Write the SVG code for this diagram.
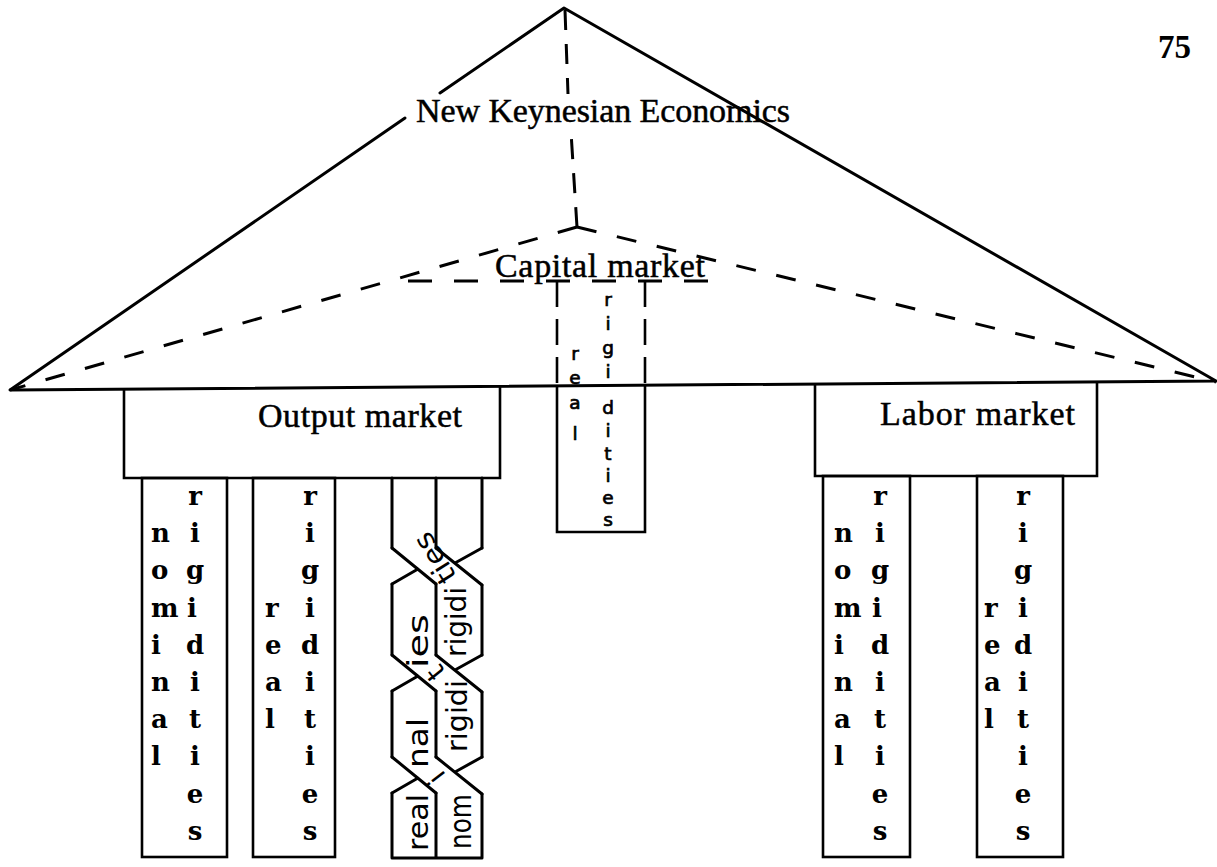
<svg xmlns="http://www.w3.org/2000/svg" width="1217" height="867" viewBox="0 0 1217 867">
<style>
.ln{stroke:#000;stroke-width:3;fill:none;stroke-linecap:round;stroke-linejoin:round}
.bx{stroke:#000;stroke-width:2.6;fill:none;stroke-linejoin:miter}
.ds1{stroke:#000;stroke-width:3;fill:none;stroke-dasharray:20 14}
.ds2{stroke:#000;stroke-width:3;fill:none;stroke-dasharray:20 21}
.ds3{stroke:#000;stroke-width:3;fill:none;stroke-dasharray:24 22}
.ds4{stroke:#000;stroke-width:2.6;fill:none;stroke-dasharray:26 12}
.ttl{font-family:"Liberation Serif","Times New Roman",serif;font-size:34px;fill:#000;stroke:#000;stroke-width:0.5}
.col{font-family:"DejaVu Serif",serif;font-weight:bold;font-size:26px;fill:#000}
.mid{text-anchor:middle}
.hw{font-family:"DejaVu Sans",sans-serif;font-size:28px;fill:#000}
.hwc{font-family:"DejaVu Sans",sans-serif;font-size:18.5px;fill:#000;text-anchor:middle;stroke:#000;stroke-width:0.7}
</style>
<rect width="1217" height="867" fill="#fff"/>

<g id="roof">
<path class="ln" d="M440,93 L564,8 L1216,381 L10,390 L405,118"/>
<path class="ds1" d="M565,10 L568,94"/>
<path class="ds1" d="M577,227 L571,132"/>
<path class="ds2" d="M577,227 L10,390"/>
<path class="ds2" d="M577,227 L1216,382"/>
<text class="ttl" x="416" y="122" font-size="33" textLength="374" lengthAdjust="spacing">New Keynesian Economics</text>
</g>

<g id="capital-market">
<path class="ds3" d="M408,281 L713,281"/>
<path class="ds4" d="M557,281 L557,386"/>
<path class="ds4" d="M645,281 L645,386"/>
<path class="bx" d="M557,386 L557,532 L645,532 L645,385"/>
<text class="ttl" x="495" y="277" textLength="210" lengthAdjust="spacing">Capital market</text>
<g class="hwc">
<text x="575" y="360">r</text><text x="575" y="384">e</text><text x="575" y="409">a</text><text x="575" y="440">l</text>
<text x="608" y="306">r</text><text x="608" y="330">i</text><text x="608" y="354">g</text><text x="608" y="378">i</text><text x="608" y="414">d</text><text x="608" y="437">i</text><text x="608" y="460">t</text><text x="608" y="482">i</text><text x="608" y="504">e</text><text x="608" y="526">s</text>
</g>
</g>

<g id="output-market">
<path class="bx" d="M124,389 L124,478 L500,478 L500,386"/>
<text class="ttl" x="258" y="427" textLength="204" lengthAdjust="spacing">Output market</text>
</g>

<g id="labor-market">
<path class="bx" d="M815,384 L815,476 L1097,476 L1097,382"/>
<text class="ttl" x="880" y="425" textLength="195" lengthAdjust="spacing">Labor market</text>
</g>

<g id="output-nominal-column">
<rect class="bx" x="142" y="478" width="85" height="379"/>
<g class="col">
<text x="151" y="542">n</text><text x="151" y="579">o</text><text x="151" y="617">m</text><text x="151" y="654">i</text><text x="151" y="691">n</text><text x="151" y="728">a</text><text x="151" y="765">l</text>
</g>
<g class="col mid">
<text x="195" y="505">r</text><text x="195" y="542">i</text><text x="195" y="579">g</text><text x="192" y="617">i</text><text x="195" y="654">d</text><text x="195" y="691">i</text><text x="195" y="728">t</text><text x="195" y="765">i</text><text x="195" y="803">e</text><text x="195" y="840">s</text>
</g>
</g>

<g id="output-real-column">
<rect class="bx" x="253" y="478" width="82" height="379"/>
<g class="col">
<text x="265" y="617">r</text><text x="265" y="654">e</text><text x="265" y="691">a</text><text x="265" y="728">l</text>
</g>
<g class="col mid">
<text x="310" y="505">r</text><text x="310" y="542">i</text><text x="310" y="579">g</text><text x="310" y="617">i</text><text x="310" y="654">d</text><text x="310" y="691">i</text><text x="310" y="728">t</text><text x="310" y="765">i</text><text x="310" y="803">e</text><text x="310" y="840">s</text>
</g>
</g>

<g id="output-braided-column">
<g class="ln" stroke-width="2.6">
<path d="M392,478 L392,548 M436,478 L436,548 M482,478 L482,548"/>
<path d="M392,548 L436,584 M436,548 L482,585 M482,548 L455,563 M392,584 L418,569"/>
<path d="M392,584 L392,655 M436,584 L436,655 M482,585 L482,655"/>
<path d="M392,655 L436,691 M436,655 L482,692 M482,655 L455,670 M392,691 L418,676"/>
<path d="M392,691 L392,757 M436,691 L436,757 M482,692 L482,757"/>
<path d="M392,757 L436,793 M436,757 L482,794 M482,757 L455,772 M392,793 L418,778"/>
<path d="M392,793 L392,858 L482,858 L482,794 M436,793 L436,858"/>
</g>
<g class="hw">
<text transform="translate(428,851) rotate(-90)" textLength="57" lengthAdjust="spacingAndGlyphs">real</text>
<text transform="translate(471,849) rotate(-90)" font-size="30" textLength="55" lengthAdjust="spacingAndGlyphs">nom</text>
<text transform="translate(444,772) rotate(-128)" text-anchor="middle">i</text>
<text transform="translate(428,768) rotate(-90)" textLength="50" lengthAdjust="spacingAndGlyphs">nal</text>
<text transform="translate(467,752) rotate(-90)" textLength="72" lengthAdjust="spacingAndGlyphs">rigidi</text>
<text transform="translate(443,667) rotate(-128)" text-anchor="middle">t</text>
<text transform="translate(428,668) rotate(-90)" textLength="54" lengthAdjust="spacingAndGlyphs">ies</text>
<text transform="translate(466,657) rotate(-90)" textLength="70" lengthAdjust="spacingAndGlyphs">rigidi</text>
<text transform="translate(443,553) rotate(-122)" text-anchor="middle" textLength="55" lengthAdjust="spacingAndGlyphs">ties</text>
</g>
</g>

<g id="labor-nominal-column">
<rect class="bx" x="823" y="476" width="87" height="381"/>
<g class="col">
<text x="834" y="542">n</text><text x="834" y="579">o</text><text x="834" y="617">m</text><text x="834" y="654">i</text><text x="834" y="691">n</text><text x="834" y="728">a</text><text x="834" y="765">l</text>
</g>
<g class="col mid">
<text x="880" y="505">r</text><text x="880" y="542">i</text><text x="880" y="579">g</text><text x="877" y="617">i</text><text x="880" y="654">d</text><text x="880" y="691">i</text><text x="880" y="728">t</text><text x="880" y="765">i</text><text x="880" y="803">e</text><text x="880" y="840">s</text>
</g>
</g>

<g id="labor-real-column">
<rect class="bx" x="977" y="476" width="86" height="381"/>
<g class="col">
<text x="984" y="617">r</text><text x="984" y="654">e</text><text x="984" y="691">a</text><text x="984" y="728">l</text>
</g>
<g class="col mid">
<text x="1023" y="505">r</text><text x="1023" y="542">i</text><text x="1023" y="579">g</text><text x="1023" y="617">i</text><text x="1023" y="654">d</text><text x="1023" y="691">i</text><text x="1023" y="728">t</text><text x="1023" y="765">i</text><text x="1023" y="803">e</text><text x="1023" y="840">s</text>
</g>
</g>

<g id="page-number">
<text x="1158" y="58" font-family="Liberation Serif, serif" font-weight="bold" font-size="33">75</text>
</g>
</svg>
